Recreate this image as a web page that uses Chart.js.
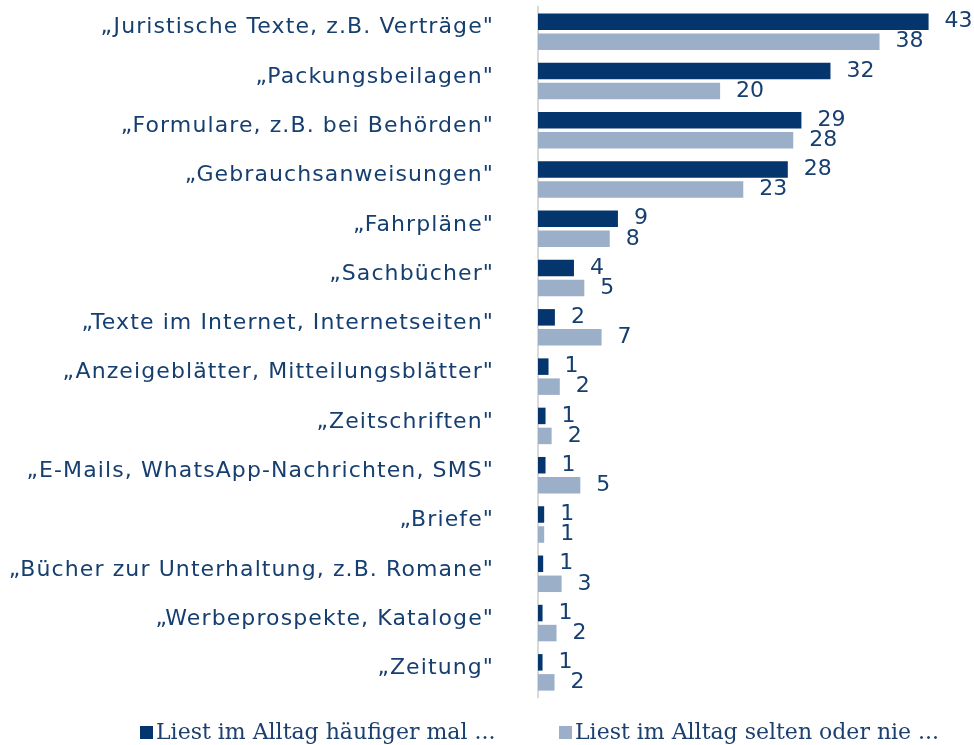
<!DOCTYPE html>
<html lang="de">
<head>
<meta charset="UTF-8">
<title>Lesen im Alltag</title>
<script src="https://cdn.jsdelivr.net/npm/chart.js@4/dist/chart.umd.min.js"></script>
<style>
  body { margin: 0; background: #fff; }
  #wrap { position: relative; width: 974px; height: 745px; overflow: hidden; }
  .legend-item {
    position: absolute; top: 721px; white-space: nowrap;
    font-family: "DejaVu Serif", serif; font-size: 22px; line-height: 22px; color: #1b3f6f;
  }
  .legend-item i { display: inline-block; width: 13px; height: 13px; margin-right: 3px; }
</style>
</head>
<body>
<div id="wrap">
  <canvas id="myChart" width="974" height="745"></canvas>
</div>
<script>
// categories, top to bottom
const categories = [
  '„Juristische Texte, z.B. Verträge"',
  '„Packungsbeilagen"',
  '„Formulare, z.B. bei Behörden"',
  '„Gebrauchsanweisungen"',
  '„Fahrpläne"',
  '„Sachbücher"',
  '„Texte im Internet, Internetseiten"',
  '„Anzeigeblätter, Mitteilungsblätter"',
  '„Zeitschriften"',
  '„E-Mails, WhatsApp-Nachrichten, SMS"',
  '„Briefe"',
  '„Bücher zur Unterhaltung, z.B. Romane"',
  '„Werbeprospekte, Kataloge"',
  '„Zeitung"'
];

const seriesNames = ['Liest im Alltag häufiger mal ...', 'Liest im Alltag selten oder nie ...'];

// values (labels show them rounded)
const oftenValues = [43, 32.2, 29, 27.5, 8.8, 3.96, 1.86, 1.16, 0.83, 0.83, 0.68, 0.57, 0.5, 0.5];
const rarelyValues = [37.6, 20.05, 28.1, 22.6, 7.9, 5.1, 7.0, 2.4, 1.5, 4.66, 0.68, 2.6, 2.04, 1.82];

const darkBlue = '#04356c';
const lightBlue = '#9bb0c8';
const textColor = '#163f70';

// wider tick text, only while the axis is drawn
const labelSpacing = {
  id: 'labelSpacing',
  beforeDraw(chart) { chart.ctx.letterSpacing = '1.1px'; },
  beforeDatasetsDraw(chart) { chart.ctx.letterSpacing = '0px'; }
};

// value labels right of each bar
const valueLabels = {
  id: 'valueLabels',
  afterDatasetsDraw(chart) {
    const ctx = chart.ctx;
    ctx.save();
    ctx.letterSpacing = '0px';
    ctx.font = '22px "DejaVu Sans"';
    ctx.fillStyle = textColor;
    ctx.textAlign = 'left';
    ctx.textBaseline = 'middle';
    chart.data.datasets.forEach((ds, i) => {
      chart.getDatasetMeta(i).data.forEach((bar, j) => {
        ctx.fillText(String(Math.round(ds.data[j])), bar.x + 16, bar.y);
      });
    });
    ctx.restore();
  }
};

const ctx = document.getElementById('myChart').getContext('2d');
const myChart = new Chart(ctx, {
  type: 'bar',
  data: {
    labels: categories,
    datasets: [
      { label: seriesNames[0], data: oftenValues, backgroundColor: darkBlue },
      { label: seriesNames[1], data: rarelyValues, backgroundColor: lightBlue }
    ]
  },
  options: {
    indexAxis: 'y',
    responsive: false,
    animation: false,
    categoryPercentage: 0.812,
    barPercentage: 0.825,
    layout: { padding: { top: 7, bottom: 48, left: 0, right: 0 } },
    plugins: {
      legend: { display: false },
      tooltip: { enabled: false }
    },
    scales: {
      x: { display: false, min: 0, max: 48 },
      y: {
        grid: { display: false, drawTicks: false },
        border: { display: true, color: '#d9d9d9', width: 2 },
        ticks: {
          color: textColor,
          font: { family: 'DejaVu Sans', size: 22 },
          padding: 44,
          labelOffset: -4
        },
        afterFit(scale) {
          scale.width = 538;
          scale.paddingTop = 0;
          scale.paddingBottom = 0;
        }
      }
    }
  },
  plugins: [labelSpacing, valueLabels]
});

// legend under the chart
const wrap = document.getElementById('wrap');
[[seriesNames[0], darkBlue, 140], [seriesNames[1], lightBlue, 559]].forEach(([name, color, left]) => {
  const item = document.createElement('div');
  item.className = 'legend-item';
  item.style.left = left + 'px';
  const box = document.createElement('i');
  box.style.background = color;
  item.appendChild(box);
  item.appendChild(document.createTextNode(name));
  wrap.appendChild(item);
});
</script>
</body>
</html>
